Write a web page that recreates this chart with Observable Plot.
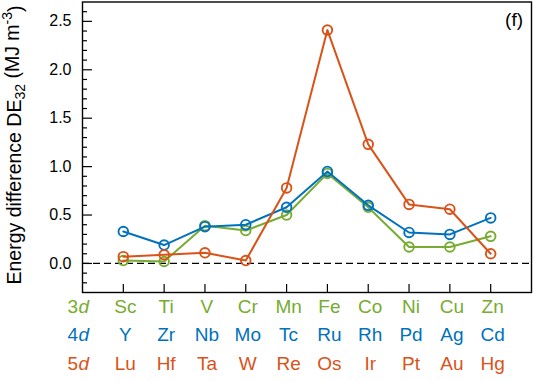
<!DOCTYPE html>
<html>
<head>
<meta charset="utf-8">
<script src="https://cdn.jsdelivr.net/npm/d3@7"></script>
<script src="https://cdn.jsdelivr.net/npm/@observablehq/plot@0.6"></script>
<style>
  body { margin: 0; background: white; }
  #chart { width: 533px; height: 382px; }
</style>
</head>
<body>
<div id="chart"></div>
<script>
// Element names per row (x categories)
const names3 = ["Sc","Ti","V","Cr","Mn","Fe","Co","Ni","Cu","Zn"];
const names4 = ["Y","Zr","Nb","Mo","Tc","Ru","Rh","Pd","Ag","Cd"];
const names5 = ["Lu","Hf","Ta","W","Re","Os","Ir","Pt","Au","Hg"];
const rowLabels = ["3", "4", "5"];
const panelLabel = "(f)";
// Energy difference DE32 (MJ m^-3)
const de3 = [0.03, 0.02, 0.39, 0.34, 0.50, 0.93, 0.58, 0.17, 0.17, 0.28];
const de4 = [0.33, 0.19, 0.38, 0.40, 0.58, 0.95, 0.60, 0.32, 0.30, 0.47];
const de5 = [0.07, 0.09, 0.11, 0.03, 0.78, 2.41, 1.23, 0.61, 0.56, 0.10];
// Tick values
const yMajor = [0, 0.5, 1.0, 1.5, 2.0, 2.5];
const yMinor = [-0.2, -0.1, 0.1, 0.2, 0.3, 0.4, 0.6, 0.7, 0.8, 0.9, 1.1, 1.2, 1.3, 1.4, 1.6, 1.7, 1.8, 1.9, 2.1, 2.2, 2.3, 2.4, 2.6];

const green = "#77AC30", blue = "#0072BD", orange = "#D95319";
const font = "'Liberation Sans', Arial, Helvetica, sans-serif";
const idx = d3.range(names3.length);

const series = [
  {values: de3, names: names3, color: green},
  {values: de4, names: names4, color: blue},
  {values: de5, names: names5, color: orange}
];

const marks = [
  Plot.ruleY([0], {stroke: "black", strokeWidth: 1.3, strokeDasharray: "7,4"})
];
series.forEach((s, k) => {
  const rows = idx.map(i => ({x: i, y: s.values[i]}));
  marks.push(Plot.line(rows, {x: "x", y: "y", stroke: s.color, strokeWidth: 2}));
  marks.push(Plot.dot(rows, {x: "x", y: "y", r: 4.8, stroke: s.color, strokeWidth: 1.9, fill: "none"}));
  marks.push(Plot.text(idx, {x: d => d, text: d => s.names[d], frameAnchor: "bottom", dy: 20 + k * 28.5, dx: 2, fill: s.color, fontSize: 19, fontFamily: font}));
  marks.push(Plot.text([rowLabels[k]], {text: d => d, frameAnchor: "bottom-left", textAnchor: "start", dx: -15, dy: 20 + k * 28.5, fill: s.color, fontSize: 19, fontFamily: font}));
  marks.push(Plot.text(["d"], {text: d => d, frameAnchor: "bottom-left", textAnchor: "start", dx: -4, dy: 20 + k * 28.5, fill: s.color, fontSize: 19, fontStyle: "italic", fontFamily: font}));
});
marks.push(
  Plot.axisY({ticks: yMajor, tickSize: 0, tickPadding: 11, tickFormat: d3.format(".1f"), fontSize: 16, fontFamily: font, label: null}),
  Plot.axisY({ticks: yMajor, tickSize: -10, tickFormat: () => "", label: null, strokeWidth: 1.2}),
  Plot.axisY({ticks: yMinor, tickSize: -5, tickFormat: () => "", label: null, strokeWidth: 1.2}),
  Plot.axisX({ticks: idx, tickSize: -8, tickFormat: () => "", label: null, strokeWidth: 1.2}),
  Plot.frame({stroke: "black", strokeWidth: 1.4})
);

const plot = Plot.plot({
  width: 533,
  height: 382,
  marginLeft: 82,
  marginRight: 2,
  marginTop: 1.5,
  marginBottom: 90,
  style: {fontFamily: font, background: "white", color: "black"},
  x: {type: "linear", domain: [-1, 10], axis: null},
  y: {domain: [-0.3, 2.7], axis: null},
  marks
});

const svg = d3.select(plot);
// Panel label
svg.append("text")
  .attr("x", 523)
  .attr("y", 26)
  .attr("text-anchor", "end")
  .attr("font-size", 19)
  .attr("font-weight", "normal")
  .attr("font-family", font)
  .attr("fill", "black")
  .text(panelLabel);

// Y axis title with subscript and superscript
const t = svg.append("text")
  .attr("transform", "translate(21,145) rotate(-90)")
  .attr("text-anchor", "middle")
  .attr("font-size", 19.5)
  .attr("font-family", font)
  .attr("fill", "black");
t.append("tspan").text("Energy difference DE");
t.append("tspan").attr("font-size", 14).attr("dy", "0.3em").text("32");
t.append("tspan").attr("dy", "-0.3em").text(" (MJ m");
t.append("tspan").attr("font-size", 14).attr("dy", "-0.55em").text("-3");
t.append("tspan").attr("dy", "0.55em").text(")");

document.getElementById("chart").appendChild(plot);
</script>
</body>
</html>
